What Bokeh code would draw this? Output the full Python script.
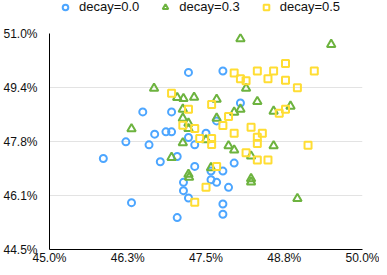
from bokeh.plotting import figure
from bokeh.layouts import column
from bokeh.models import ColumnDataSource, FixedTicker, Legend, LegendItem, Range1d
from bokeh.embed import file_html
from bokeh.resources import INLINE

# ---- data (percent values) ----
series_names = ["decay=0.0", "decay=0.3", "decay=0.5"]

x_decay00 = [47.22, 47.77, 46.49, 46.95, 48.05, 47.67, 46.68, 46.86, 46.95, 47.22,
             47.50, 46.22, 46.59, 47.32, 45.86, 46.77, 47.04, 47.32, 47.58, 47.77,
             47.95, 47.14, 47.58, 47.67, 47.86, 47.14, 47.22, 46.31, 47.77, 47.77, 47.04]
y_decay00 = [49.83, 49.87, 48.64, 48.64, 48.91, 48.37, 47.97, 48.04, 48.04, 47.87,
             48.00, 47.74, 47.65, 47.65, 47.24, 47.14, 47.30, 47.00, 46.86, 46.86,
             47.10, 46.52, 46.60, 46.52, 46.37, 46.27, 46.05, 45.91, 45.87, 45.56, 45.46]

x_decay03 = [48.05, 49.50, 46.67, 48.14, 47.04, 47.14, 47.31, 47.67, 48.32, 47.13,
             47.95, 48.05, 48.58, 48.85, 47.13, 47.67, 47.22, 47.22, 46.31, 47.13,
             47.50, 47.86, 47.95, 48.58, 46.95, 48.22, 47.22, 47.23, 48.22, 48.22,
             48.96, 47.58]
y_decay03 = [50.84, 50.67, 49.35, 49.35, 49.07, 49.04, 49.08, 49.02, 48.95, 48.72,
             48.63, 48.72, 48.66, 48.81, 48.45, 48.45, 48.30, 48.14, 48.13, 47.71,
             47.80, 47.62, 47.49, 47.62, 47.27, 47.31, 46.76, 46.67, 46.63, 46.53,
             46.03, 46.96]

x_decay05 = [47.95, 48.05, 48.14, 48.32, 48.49, 48.58, 48.77, 48.77, 48.96, 49.23,
             46.95, 47.22, 47.59, 47.86, 48.67, 48.77, 47.13, 47.32, 47.77, 48.22,
             47.95, 48.40, 48.32, 47.40, 47.59, 47.59, 48.32, 49.13, 48.14, 48.32,
             48.49, 47.67, 47.50, 47.32]
y_decay05 = [49.81, 49.64, 49.58, 49.87, 49.64, 49.87, 50.10, 49.59, 49.37, 49.87,
             49.20, 48.72, 48.86, 48.50, 48.60, 48.72, 48.24, 48.14, 48.23, 48.18,
             48.00, 48.00, 47.88, 47.84, 47.84, 47.66, 47.69, 47.64, 47.41, 47.19,
             47.19, 47.00, 46.37, 45.92]

x_ticks = [45.0, 46.25, 47.5, 48.75, 50.0]
x_tick_labels = ["45.0%", "46.3%", "47.5%", "48.8%", "50.0%"]
y_ticks = [44.5, 46.125, 47.75, 49.375, 51.0]
y_tick_labels = ["44.5%", "46.1%", "47.8%", "49.4%", "51.0%"]

colors = ["#4DA6FF", "#6DB33F", "#FFDD33"]
markers = ["circle", "triangle", "square"]
sizes = [7, 8.5, 7]

FONT = "Liberation Sans"

W = 379
LEG_H = 20          # height of the legend strip
H = 247             # height of the scatter plot
B_LEFT, B_RIGHT, B_TOP, B_BOTTOM = 49, 17, 13, 15

sources = [ColumnDataSource(dict(x=xs, y=ys)) for xs, ys in
           [(x_decay00, y_decay00), (x_decay03, y_decay03), (x_decay05, y_decay05)]]

# ---------- main scatter plot ----------
p = figure(width=W, height=H, output_backend="svg", toolbar_location=None,
           x_range=Range1d(45.0, 50.0), y_range=Range1d(44.5, 51.0),
           min_border_left=B_LEFT, min_border_right=B_RIGHT,
           min_border_top=B_TOP, min_border_bottom=B_BOTTOM)
p.outline_line_color = None
p.background_fill_color = "white"
p.border_fill_color = "white"

for src, c, m, s in zip(sources, colors, markers, sizes):
    p.scatter("x", "y", source=src, marker=m, size=s, fill_color=None,
              line_color=c, line_width=2)

for ax in (p.xaxis[0], p.yaxis[0]):
    ax.major_tick_line_color = None
    ax.minor_tick_line_color = None
    ax.major_tick_out = 0
    ax.major_tick_in = 0
    ax.minor_tick_out = 0
    ax.minor_tick_in = 0
    ax.axis_line_color = "black"
    ax.axis_line_width = 1
    ax.major_label_text_font = FONT
    ax.major_label_text_font_size = "12px"
    ax.major_label_text_color = "#111111"
p.xaxis.major_label_standoff = 1
p.yaxis.major_label_standoff = 12

p.xaxis.ticker = FixedTicker(ticks=x_ticks)
p.yaxis.ticker = FixedTicker(ticks=y_ticks)
p.xaxis.major_label_overrides = {t: l for t, l in zip(x_ticks, x_tick_labels)}
p.yaxis.major_label_overrides = {t: l for t, l in zip(y_ticks, y_tick_labels)}

p.xgrid.visible = False
p.ygrid.grid_line_color = "#e3e3e3"
p.ygrid.grid_line_width = 1

# ---------- legend strip on top (same series, drawn out of its view) ----------
lg = figure(width=W, height=LEG_H, output_backend="svg", toolbar_location=None,
            x_range=Range1d(0, 1), y_range=Range1d(0, 1),
            min_border_left=0, min_border_right=0, min_border_top=0, min_border_bottom=0,
            x_axis_type=None, y_axis_type=None)
lg.outline_line_color = None
lg.grid.visible = False

items = []
for src, name, c, m in zip(sources, series_names, colors, markers):
    r = lg.scatter("x", "y", source=src, marker=m, size=7, fill_color=None,
                   line_color=c, line_width=2)
    items.append(LegendItem(label=name, renderers=[r]))

row_h = 14
legend = Legend(items=items, orientation="horizontal",
                location=(9, LEG_H - row_h),
                glyph_width=14, glyph_height=row_h, label_height=row_h,
                label_standoff=7, spacing=19, padding=0, margin=0,
                label_text_font=FONT, label_text_font_size="13px",
                label_text_color="#111111",
                border_line_color=None, background_fill_alpha=0)
lg.add_layout(legend, "center")

layout = column(lg, p, spacing=0)

with open("out.html", "w") as f:
    f.write(file_html(layout, INLINE))
